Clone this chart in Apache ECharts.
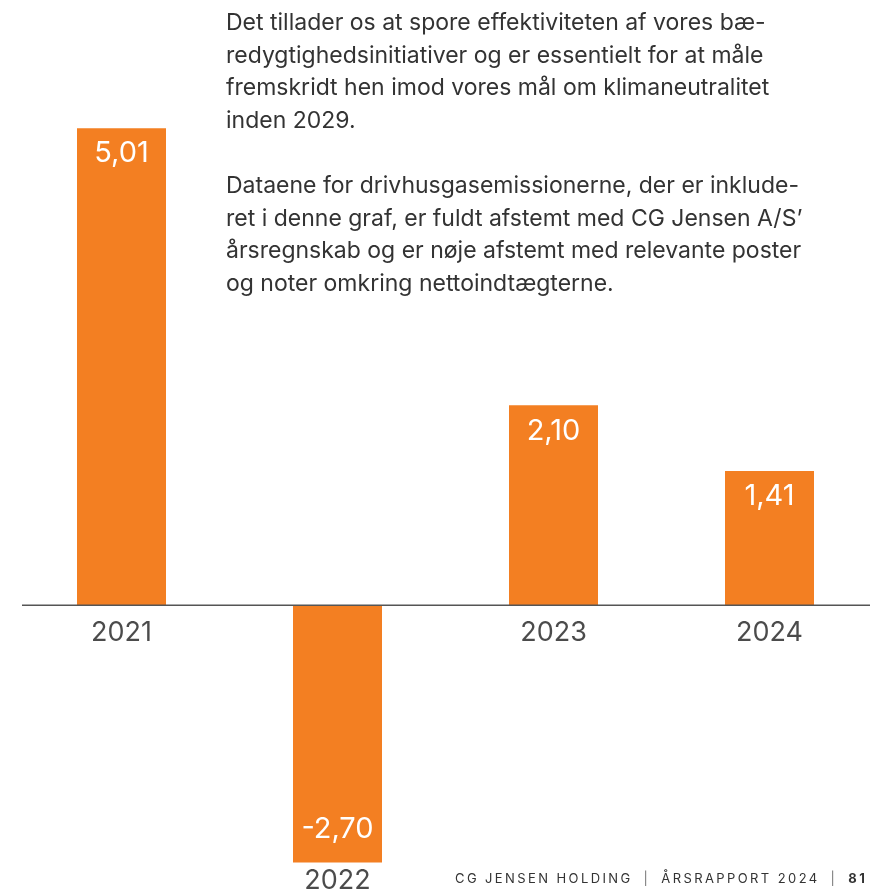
<!DOCTYPE html>
<html lang="da">
<head>
<meta charset="utf-8">
<title>Klimaintensitet</title>
<script src="https://cdn.jsdelivr.net/npm/echarts@6/dist/echarts.min.js"></script>
<style>
  html, body { margin: 0; padding: 0; background: #ffffff; }
  #chart { width: 870px; height: 894px; }
  #footer {
    position: absolute; left: 455px; top: 870px;
    font-family: Inter, "Noto Sans", sans-serif; font-size: 13px;
    letter-spacing: 2.4px; color: #333; white-space: nowrap;
  }
  #footer .sep { margin: 0 11px; color: #777; }
  #footer b { font-weight: 700; }
</style>
</head>
<body>
<div id="chart"></div>
<div id="footer">CG JENSEN HOLDING<span class="sep">|</span>ÅRSRAPPORT 2024<span class="sep">|</span><b>81</b></div>
<script>
// Years and their values
const years = ['2021', '2022', '2023', '2024'];
const values = [5.01, -2.70, 2.10, 1.41];

// Body copy beside the chart
const bodyLines = [
  'Det tillader os at spore effektiviteten af vores bæ-',
  'redygtighedsinitiativer og er essentielt for at måle',
  'fremskridt hen imod vores mål om klimaneutralitet',
  'inden 2029.',
  '',
  'Dataene for drivhusgasemissionerne, der er inklude-',
  'ret i denne graf, er fuldt afstemt med CG Jensen A/S’',
  'årsregnskab og er nøje afstemt med relevante poster',
  'og noter omkring nettoindtægterne.'
];

const ORANGE = '#F37F22';
const FONT = 'Inter, "Noto Sans", sans-serif';

const fmt = v => v.toFixed(2).replace('.', ',');

const chart = echarts.init(document.getElementById('chart'));

chart.setOption({
  animation: false,
  backgroundColor: '#ffffff',
  grid: {
    left: 13.5, width: 864, top: 34, bottom: 3,
    containLabel: false, outerBoundsMode: 'none'
  },
  xAxis: {
    type: 'category',
    data: years,
    axisLine: { show: false },
    axisTick: { show: false },
    axisLabel: { show: false },
    splitLine: { show: false }
  },
  yAxis: {
    type: 'value',
    min: -3,
    max: 6,
    show: false,
    splitLine: { show: false }
  },
  graphic: [
    {
      type: 'text',
      left: 226,
      top: 7,
      z: 10,
      style: {
        text: bodyLines.join('\n'),
        fontSize: 23,
        fontFamily: FONT,
        lineHeight: 32.6,
        fill: '#333333'
      }
    }
  ],
  series: [
    {
      type: 'bar',
      barWidth: 89,
      z: 2,
      itemStyle: { color: ORANGE },
      data: values.map(v => ({
        value: v,
        label: {
          show: true,
          position: v < 0 ? 'insideBottom' : 'insideTop',
          distance: v < 0 ? 19 : 11,
          formatter: p => fmt(p.value),
          color: '#ffffff',
          fontFamily: FONT,
          fontSize: 29
        }
      }))
    },
    {
      // Year labels hang just below the foot of each bar
      type: 'scatter',
      symbolSize: 0,
      silent: true,
      z: 3,
      data: values.map((v, i) => ({
        value: [years[i], Math.min(0, v)],
        label: { distance: v < 0 ? 5 : 14 }
      })),
      label: {
        show: true,
        position: 'bottom',
        formatter: p => p.value[0],
        color: '#1e1e1e',
        fontFamily: FONT,
        fontSize: 27
      }
    }
  ]
});

// Zero baseline drawn across the plot, above the bars
const y0 = chart.convertToPixel({ yAxisIndex: 0 }, 0);
chart.setOption({
  graphic: [
    {},
    {
      type: 'line',
      z: 20,
      shape: { x1: 22, y1: y0, x2: 870, y2: y0 },
      style: { stroke: '#555555', lineWidth: 1.5 }
    }
  ]
});
</script>
</body>
</html>
